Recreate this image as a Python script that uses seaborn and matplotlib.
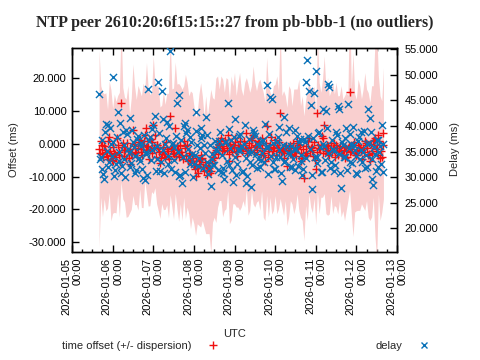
import numpy as np
import pandas as pd
import matplotlib
matplotlib.use("Agg")
import matplotlib.pyplot as plt
import matplotlib.dates as mdates
from matplotlib.lines import Line2D
from matplotlib.ticker import FormatStrFormatter
import seaborn as sns

# samples on the hour, first one at 2026-01-05 16:00
start = "2026-01-05 16:00"
# extra samples on the half hour, first one at 2026-01-05 16:30
start_half = "2026-01-05 16:30"

offset = [
    -1.5, 0.7, -3.2, -0.8, -2.4, -4.6, 2.1, -3.5, -5.2, -2.9, -4.1, -0.3,
    -3.3, 12.4, 0.2, -1.8, -4.4, -2.2, -6.1, -3.0, 4.3, -0.6, -2.5, -1.2,
    1.2, -2.4, -0.5, 2.7, 4.8, -1.0, -1.9, 0.4, 5.8, 2.6, -0.3, -1.4,
    -5.8, -3.2, -2.1, -4.0, -1.6, -3.6, 8.5, -1.3, -3.0, 4.9, -0.8, -2.6,
    -0.3, -3.4, 0.7, -0.8, -0.3, -3.4, -4.9, -3.4, -6.4, -9.9, -7.4, -4.9,
    -3.4, -4.4, -8.4, -6.4, -9.4, -7.4, -8.4, -4.9, -4.4, -2.0, 0.7, -0.3,
    1.7, -1.3, -2.3, 0.2, 2.7, -5.4, -1.3, -0.3, 1.7, -2.3, -0.3, 0.7,
    -1.3, -1.3, -0.3, 3.2, -1.8, -2.3, 1.7, 2.7, -0.3, -0.8, 0.7, -0.3,
    1.7, -3.4, -5.4, 5.3, -2.3, -0.3, -3.4, -1.3, 1.2, -0.3, -1.8, 9.3,
    -2.3, -2.8, -1.3, -6.9, -2.3, -0.3, -3.4, -2.3, -1.3, 0.7, -0.3, -5.4,
    -4.4, -10.5, -2.8, -3.4, 1.7, -1.3, -2.0, 0.4, -7.6, 9.3, -1.3, -0.3,
    1.7, 5.8, -2.3, -0.8, -3.4, 0.2, -1.3, -1.8, -0.3, -3.4, -1.3, -2.3,
    -3.4, -4.4, -2.3, -1.3, 15.9, -2.3, -0.3, -2.8, -3.4, -0.3, -1.3, -2.3,
    -1.3, 0.7, -0.3, -3.4, -5.4, -2.3, 0.7, 1.7, -0.3, 2.7, -4.4, -3.9,
    3.2,
]

dispersion = [
    30, 17, 19, 16, 18, 15, 17, 20, 16, 18, 17, 15, 19, 24, 17, 16, 18, 20, 15, 17, 20, 18, 16, 19,
    15, 17, 19, 14, 20, 18, 17, 15, 21, 16, 18, 19, 17, 15, 18, 16, 17, 19, 24, 18, 20, 20, 19, 21,
    18, 20, 17, 22, 19, 18, 21, 19, 18, 18, 17, 20, 22, 19, 17, 21, 18, 20, 25, 19, 18, 22, 20, 17,
    19, 21, 18, 20, 17, 19, 22, 18, 20, 17, 19, 21, 18, 16, 19, 17, 20, 18, 16, 21, 19, 17, 18, 20,
    16, 19, 18, 21, 20, 16, 18, 19, 17, 21, 18, 26, 17, 19, 16, 18, 20, 17, 15, 19, 18, 16, 20, 17,
    19, 19, 16, 20, 17, 18, 19, 17, 17, 24, 20, 16, 18, 21, 19, 21, 18, 16, 20, 17, 19, 18, 16, 20,
    17, 19, 18, 16, 30, 19, 28, 18, 17, 20, 19, 16, 18, 21, 17, 19, 18, 20, 17, 30, 35, 18, 19, 17,
    20,
]

delay = [
    46.2, 34.0, 31.5, 29.7, 40.4, 40.1, 33.0, 36.5, 49.5, 30.2, 32.5, 42.8,
    35.0, 30.8, 38.8, 33.6, 39.2, 35.5, 41.5, 32.8, 36.8, 34.2, 31.3, 38.0,
    33.2, 36.0, 29.8, 29.4, 34.6, 47.2, 37.8, 35.2, 40.1, 42.0, 33.5, 48.6,
    31.2, 46.9, 41.4, 36.4, 40.8, 32.6, 54.7, 36.5, 35.8, 31.0, 44.5, 46.1,
    30.5, 28.9, 39.9, 40.5, 39.2, 34.0, 37.9, 34.5, 32.6, 42.8, 36.2, 33.8,
    39.5, 38.2, 36.2, 41.7, 33.0, 31.8, 28.2, 34.5, 32.3, 35.5, 35.8, 37.0,
    31.0, 31.7, 29.7, 36.8, 44.5, 32.3, 37.3, 29.0, 41.4, 30.5, 35.2, 38.5,
    36.0, 31.2, 40.1, 28.8, 35.0, 33.0, 28.0, 39.2, 38.0, 36.5, 33.5, 32.0,
    34.8, 37.2, 40.4, 48.0, 35.8, 45.6, 45.3, 33.0, 31.5, 36.8, 39.8, 34.0,
    29.3, 41.7, 33.2, 36.0, 39.6, 34.5, 32.0, 35.5, 31.3, 38.0, 36.8, 33.2,
    30.5, 37.5, 48.5, 52.9, 46.9, 44.0, 27.7, 46.5, 50.8, 34.0, 38.8, 31.0,
    43.2, 36.0, 42.9, 48.1, 47.6, 33.0, 35.5, 31.2, 38.8, 43.8, 43.2, 27.8,
    36.2, 34.0, 39.5, 44.2, 33.0, 36.5, 39.8, 35.2, 30.8, 37.0, 33.5, 38.8,
    35.0, 31.8, 36.5, 43.2, 41.6, 29.6, 28.4, 34.5, 37.2, 32.0, 36.0, 40.1,
    31.0,
]

offset_half = [
    -2.8, -0.4, -4.1, -1.9, -3.6, 0.9, -2.2, -4.8, -1.1, -3.0, 1.8, -2.6,
    -5.5, -0.9, -3.8, -2.0, 0.3, -4.2, -1.5, -3.1, -0.2, -2.7, -4.0, 0.5,
    -1.7, -3.3, 0.9, -2.0, -0.6, -4.5, 1.4, -2.8, -1.2, -3.9, -0.4, -2.5,
    -4.3, -1.0, -3.1, 0.6, -2.2, -4.7, -1.5, -2.9, -0.5, -3.6, -1.9, -4.1,
    -2.4, -4.6, -1.2, -3.8, -5.1, -2.7, -6.0, -4.2, -7.7, -5.3, -8.9, -6.1,
    -4.6, -7.0, -5.5, -8.0, -6.8, -9.0, -5.8, -3.9, -2.6, -1.0, -3.2, 0.9,
    -2.0, -0.6, 1.1, -1.8, -3.1, -0.2, -2.5, -1.1, 0.4, -3.6, -1.7, -0.5,
    -2.2, 0.8, -1.4, -2.9, 0.1, -1.0, 1.3, -2.4, -0.8, -1.9, 0.5, -3.0,
    -1.2, -2.7, 0.3, -4.0, -1.6, 2.2, -2.1, -0.9, -3.5, -1.4, 0.6, -2.6,
    -1.8, -4.3, -0.7, -2.0, -3.1, -1.3, 0.2, -2.4, -3.8, -1.1, -0.4, -2.9,
    -1.6, -3.3, -0.8, 0.9, -2.2, -1.0, -3.6, -4.8, -2.5, -0.3, -1.7, 2.4,
    -2.8, -1.2, -0.5, -3.0, -1.9, -2.6, 0.1, -3.9, -1.4, -2.2, -0.6, -3.3,
    -2.0, -1.1, -4.1, -0.7, -2.6, -1.5, 0.5, -3.4, -2.1, -0.9, -1.8, -4.6,
    -2.4, 0.3, -1.3, -3.0, -0.2, -2.7, 1.1, -1.6, -3.5, 0.8, -2.2, -0.4,
]

delay_half = [
    33.5, 37.2, 30.6, 38.9, 35.1, 31.9, 39.6, 34.2, 36.9, 31.4, 37.8, 33.1,
    40.6, 32.2, 36.3, 30.1, 38.4, 34.7, 32.0, 39.1, 35.9, 30.9, 37.4, 33.8,
    36.7, 31.6, 38.2, 34.9, 30.4, 37.1, 33.4, 39.3, 35.6, 31.2, 36.1, 38.7,
    32.9, 35.3, 30.8, 37.6, 34.1, 39.9, 31.5, 36.6, 33.3, 38.1, 35.0, 30.3,
    37.3, 33.9, 31.1, 38.6, 35.4, 32.5, 36.9, 30.0, 34.3, 39.0, 32.1, 35.7,
    37.7, 31.8, 34.8, 38.3, 30.7, 36.3, 33.6, 32.4, 37.0, 35.1, 31.4, 38.9,
    34.4, 30.9, 36.8, 33.1, 39.4, 35.6, 31.3, 37.9, 34.0, 32.6, 38.0, 35.3,
    31.0, 36.4, 33.7, 30.2, 37.5, 35.0, 32.3, 38.6, 34.6, 31.7, 36.1, 33.4,
    37.1, 32.9, 35.8, 30.6, 38.4, 34.1, 36.6, 31.5, 33.9, 37.8, 35.2, 30.8,
    36.3, 33.0, 38.9, 34.8, 31.9, 36.0, 33.5, 39.2, 35.4, 32.2, 37.4, 34.3,
    31.6, 36.9, 33.7, 38.1, 35.5, 30.4, 37.6, 34.0, 32.8, 38.7, 35.9, 31.1,
    36.5, 33.3, 39.5, 34.7, 31.8, 37.2, 35.1, 32.4, 38.3, 34.5, 30.9, 36.8,
    33.9, 37.7, 31.4, 35.6, 38.5, 32.7, 36.2, 34.1, 30.6, 37.9, 35.3, 33.0,
    39.0, 34.4, 31.9, 36.7, 38.8, 33.6, 35.8, 31.2, 37.3, 34.9, 32.5, 36.4,
]

offset_ticks = [-30, -20, -10, 0, 10, 20]
delay_ticks = [20, 25, 30, 35, 40, 45, 50, 55]

# band: hourly offset +/- dispersion
band = pd.DataFrame({
    "time": pd.date_range(start, periods=len(offset), freq="h"),
    "offset": offset,
    "disp": dispersion,
})
band["low"] = band["offset"] - band["disp"]
band["high"] = band["offset"] + band["disp"]

# all points, hourly and half-hourly
pts = pd.concat([
    pd.DataFrame({"time": band["time"], "offset": offset, "delay": delay}),
    pd.DataFrame({"time": pd.date_range(start_half, periods=len(offset_half), freq="h"),
                  "offset": offset_half, "delay": delay_half}),
]).sort_values("time")

sns.set_theme(style="ticks")
plt.rcParams["font.family"] = ["Liberation Sans", "DejaVu Sans"]
plt.rcParams["axes.edgecolor"] = "black"
plt.rcParams["xtick.color"] = "black"
plt.rcParams["ytick.color"] = "black"
plt.rcParams["axes.linewidth"] = 1.0

red = "#f01010"
blue = "#0a72b8"

fig = plt.figure(figsize=(4.8, 3.6), dpi=100)
ax = fig.add_axes([72 / 480, 1 - 252 / 360, 325 / 480, (252 - 47.7) / 360])

# offset band and points
ax.fill_between(band["time"], band["low"], band["high"], color="#f9cfcf", linewidth=0)
sns.scatterplot(data=pts, x="time", y="offset", marker="+", color=red, s=34,
                linewidth=1, ax=ax, legend=False, zorder=3)

# delay on the right axis
ax2 = ax.twinx()
sns.scatterplot(data=pts, x="time", y="delay", marker="x", color=blue, s=26,
                linewidth=1, ax=ax2, legend=False, zorder=3)

ax.set_xlim(pd.Timestamp("2026-01-05"), pd.Timestamp("2026-01-13"))
ax.set_ylim(-33, 29.3)
ax2.set_ylim(15.4, 55.25)

ax.set_yticks(offset_ticks)
ax2.set_yticks(delay_ticks)
ax.yaxis.set_major_formatter(FormatStrFormatter("%.3f"))
ax2.yaxis.set_major_formatter(FormatStrFormatter("%.3f"))

ax.xaxis.set_major_locator(mdates.DayLocator())
ax.xaxis.set_minor_locator(mdates.HourLocator(byhour=[6, 12, 18]))
ax.xaxis.set_major_formatter(mdates.DateFormatter("%Y-%m-%d\n%H:%M"))

ax.tick_params(axis="x", which="major", direction="in", top=True, bottom=True,
               length=5, width=1, pad=4, labelsize=8)
ax.tick_params(axis="x", which="minor", direction="in", top=True, bottom=True,
               length=2.5, width=1)
ax.tick_params(axis="y", direction="in", left=True, right=False, length=5,
               width=1, pad=4, labelsize=8)
ax2.tick_params(axis="y", direction="in", right=True, length=5, width=1,
                pad=5.5, labelsize=8)
plt.setp(ax.get_xticklabels(), rotation=90, ha="center", va="top",
         multialignment="right")

ax.set_xlabel("")
ax.set_ylabel("")
ax2.set_ylabel("")

fig.text(234.5 / 480, 1 - 23 / 360, "NTP peer 2610:20:6f15:15::27 from pb-bbb-1 (no outliers)",
         ha="center", va="center", fontsize=11.5, fontweight="bold",
         family=["Liberation Serif", "DejaVu Serif"])
fig.text(14 / 480, 1 - 150 / 360, "Offset (ms)", rotation=90, ha="center",
         va="center", fontsize=8)
fig.text(455 / 480, 1 - 149 / 360, "Delay (ms)", rotation=90, ha="center",
         va="center", fontsize=8)
fig.text(234.5 / 480, 1 - 334 / 360, "UTC", ha="center", va="center", fontsize=8)

h_off = Line2D([], [], marker="+", color=red, linestyle="none", markersize=6,
               markeredgewidth=1)
h_del = Line2D([], [], marker="x", color=blue, linestyle="none", markersize=5,
               markeredgewidth=1)
fig.legend(handles=[h_off], labels=["time offset (+/- dispersion)"],
           loc="center left", bbox_to_anchor=(62 / 480, 1 - 346 / 360),
           markerfirst=False, frameon=False, borderpad=0, borderaxespad=0,
           handlelength=2, handletextpad=0.9, fontsize=8)
fig.legend(handles=[h_del], labels=["delay"],
           loc="center left", bbox_to_anchor=(376 / 480, 1 - 346 / 360),
           markerfirst=False, frameon=False, borderpad=0, borderaxespad=0,
           handlelength=2, handletextpad=0.9, fontsize=8)

fig.savefig("out.png", dpi=100)
